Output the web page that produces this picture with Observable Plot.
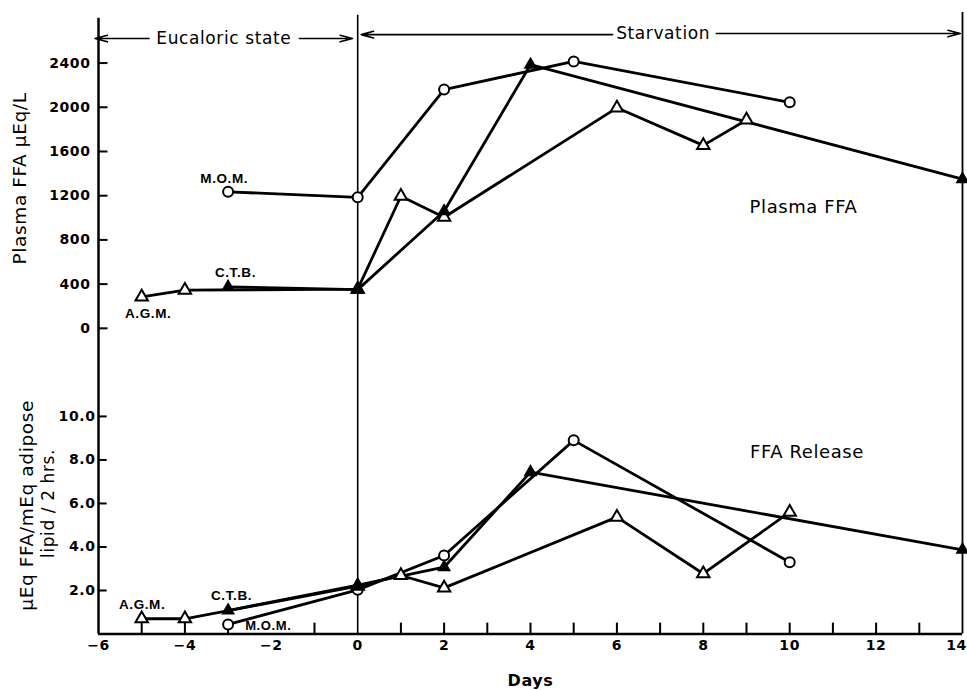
<!DOCTYPE html>
<html><head><meta charset="utf-8">
<script src="https://cdn.jsdelivr.net/npm/d3@7"></script>
<script src="https://cdn.jsdelivr.net/npm/@observablehq/plot@0.6"></script>
<style>
html,body{margin:0;padding:0;background:#fff;}
svg text{letter-spacing:0.6px}
</style></head><body><div id="chart"></div>
<script>
// ---- Plasma FFA (µEq/L) ----
const agmPlasmaDays = [-5, -4, 0, 1, 2, 6, 8, 9];
const agmPlasma     = [285, 345, 355, 1195, 1005, 1995, 1655, 1885];
const ctbPlasmaDays = [-3, 0, 2, 4, 14];
const ctbPlasma     = [375, 350, 1060, 2385, 1350];
const momPlasmaDays = [-3, 0, 2, 5, 10];
const momPlasma     = [1235, 1185, 2160, 2415, 2045];
// ---- FFA release (µEq FFA / mEq adipose lipid / 2 hrs) ----
const agmReleaseDays = [-5, -4, 0, 1, 2, 6, 8, 10];
const agmRelease     = [0.70, 0.70, 2.20, 2.69, 2.12, 5.37, 2.77, 5.60];
const ctbReleaseDays = [-3, 0, 2, 4, 14];
const ctbRelease     = [1.08, 2.25, 3.07, 7.44, 3.87];
const momReleaseDays = [-3, 0, 2, 5, 10];
const momRelease     = [0.44, 2.03, 3.61, 8.90, 3.30];
// ---- ticks ----
const plasmaTicks = [0, 400, 800, 1200, 1600, 2000, 2400];
const releaseTicks = [2, 4, 6, 8, 10];
const releaseTickLabels = ["2.0", "4.0", "6.0", "8.0", "10.0"];
const dayTicks = [-6, -4, -2, 0, 2, 4, 6, 8, 10, 12];
const dayLabels = ["−6", "−4", "−2", "0", "2", "4", "6", "8", "10", "12"];
const lastDayTick = [14];
const lastDayLabel = ["14"];
const minorDays = [-5, -4, -3, -1, 1, 2, 3, 4, 5, 6, 7, 8, 9, 10, 11, 12, 13];

// composite vertical scale: release panel in its own units, plasma panel stacked above
const PLASMA_BASE = 14.05, PLASMA_UNIT = 2.032 / 400;
const plasmaY = v => PLASMA_BASE + v * PLASMA_UNIT;

function rows(subject, panel, days, vals) {
  return days.map((d, i) => ({subject, panel, day: d, value: vals[i],
    yv: panel === "plasma" ? plasmaY(vals[i]) : vals[i]}));
}
const agm = [...rows("A.G.M.", "plasma", agmPlasmaDays, agmPlasma), ...rows("A.G.M.", "release", agmReleaseDays, agmRelease)];
const ctb = [...rows("C.T.B.", "plasma", ctbPlasmaDays, ctbPlasma), ...rows("C.T.B.", "release", ctbReleaseDays, ctbRelease)];
const mom = [...rows("M.O.M.", "plasma", momPlasmaDays, momPlasma), ...rows("M.O.M.", "release", momReleaseDays, momRelease)];
const all = [...agm, ...ctb, ...mom];

const F = "DejaVu Sans";
const L = "Liberation Sans";

const chart = Plot.plot({
  width: 967, height: 690,
  marginLeft: 98, marginRight: 5, marginTop: 8, marginBottom: 56.5,
  style: {fontFamily: F, background: "white", color: "black"},
  x: {axis: null, domain: [-6, 14]},
  y: {axis: null, domain: [0, 28.75]},
  marks: [
    // frame lines
    Plot.ruleX([-6], {y1: 0, y2: 28.3, strokeWidth: 2.5}),
    Plot.ruleY([0], {x1: -6, x2: 14, strokeWidth: 2.5}),
    Plot.ruleX([0], {y1: 0, y2: 28.44, strokeWidth: 1.6}),
    Plot.ruleX([14], {y1: 0, y2: 28.57, strokeWidth: 1.8}),
    // x ticks (inward)
    Plot.ruleX(minorDays, {y1: 0, y2: 0.5, strokeWidth: 2}),
    Plot.text(dayTicks, {x: d => d, y: 0, text: (d, i) => dayLabels[i], dy: 12, fontWeight: "bold", fontSize: 14}),
    Plot.text(lastDayTick, {x: d => d, y: 0, text: (d, i) => lastDayLabel[i], dy: 12, dx: -6, fontWeight: "bold", fontSize: 14}),
    // y ticks (inward)
    Plot.ruleY(plasmaTicks, {y: plasmaY, x1: -6, x2: -5.78, strokeWidth: 2}),
    Plot.text(plasmaTicks, {x: -6, y: plasmaY, text: d => String(d), dx: -8, textAnchor: "end", fontWeight: "bold", fontSize: 14}),
    Plot.ruleY(releaseTicks, {y: d => d, x1: -6, x2: -5.8, strokeWidth: 2}),
    Plot.text(releaseTicks, {x: -6, y: d => d, text: (d, i) => releaseTickLabels[i], dx: -3, textAnchor: "end", fontWeight: "bold", fontSize: 14}),
    // axis titles
    Plot.text(["Plasma FFA μEq/L"], {x: -7.81, y: 20.94, rotate: -90, fontSize: 18.5}),
    Plot.text(["μEq FFA/mEq adipose"], {x: -7.66, y: 5.91, rotate: -90, fontSize: 18.5}),
    Plot.text(["lipid / 2 hrs."], {x: -7.15, y: 6.0, rotate: -90, fontSize: 17}),
    Plot.text(["Days"], {x: 4.0, y: -2.14, fontWeight: "bold", fontSize: 16}),
    // period annotations
    Plot.arrow([0], {x1: -4.83, x2: -6.08, y1: 27.37, y2: 27.37, strokeWidth: 1.6, headLength: 12, headAngle: 30}),
    Plot.arrow([0], {x1: -1.35, x2: -0.12, y1: 27.37, y2: 27.37, strokeWidth: 1.6, headLength: 12, headAngle: 30}),
    Plot.text(["Eucaloric state"], {x: -3.1, y: 27.39, fontSize: 17}),
    Plot.arrow([0], {x1: 5.9, x2: 0.08, y1: 27.55, y2: 27.55, strokeWidth: 1.6, headLength: 12, headAngle: 30}),
    Plot.arrow([0], {x1: 8.3, x2: 13.95, y1: 27.6, y2: 27.6, strokeWidth: 1.6, headLength: 12, headAngle: 30}),
    Plot.text(["Starvation"], {x: 7.07, y: 27.59, fontSize: 17}),
    Plot.text(["Plasma FFA"], {x: 10.32, y: 19.6, fontSize: 18}),
    Plot.text(["FFA Release"], {x: 10.4, y: 8.34, fontSize: 18}),
    // subject labels
    Plot.text(["M.O.M."], {x: -3.09, y: 20.94, fontFamily: L, fontWeight: "bold", fontSize: 13.5}),
    Plot.text(["C.T.B."], {x: -2.83, y: 16.62, fontFamily: L, fontWeight: "bold", fontSize: 13.5}),
    Plot.text(["A.G.M."], {x: -4.85, y: 14.74, fontFamily: L, fontWeight: "bold", fontSize: 13.5}),
    Plot.text(["A.G.M."], {x: -4.99, y: 1.36, fontFamily: L, fontWeight: "bold", fontSize: 13.5}),
    Plot.text(["C.T.B."], {x: -2.92, y: 1.77, fontFamily: L, fontWeight: "bold", fontSize: 13.5}),
    Plot.text(["M.O.M."], {x: -2.07, y: 0.36, fontFamily: L, fontWeight: "bold", fontSize: 13}),
    // data
    Plot.line(all, {x: "day", y: "yv", z: d => d.subject + d.panel, stroke: "black", strokeWidth: 2.8}),
    Plot.dot(mom, {x: "day", y: "yv", r: 5, symbol: "circle", fill: "white", stroke: "black", strokeWidth: 2}),
    Plot.dot(agm, {x: "day", y: "yv", r: 4.6, symbol: "triangle", fill: "white", stroke: "black", strokeWidth: 2}),
    Plot.dot(ctb, {x: "day", y: "yv", r: 4.2, symbol: "triangle", fill: "black", stroke: "black", strokeWidth: 1.5})
  ]
});
d3.select(chart).selectAll("text")
  .filter(function() { return this.textContent === "Plasma FFA" || this.textContent === "FFA Release"; })
  .attr("letter-spacing", "1.5px");
document.getElementById("chart").appendChild(chart);
</script></body></html>
